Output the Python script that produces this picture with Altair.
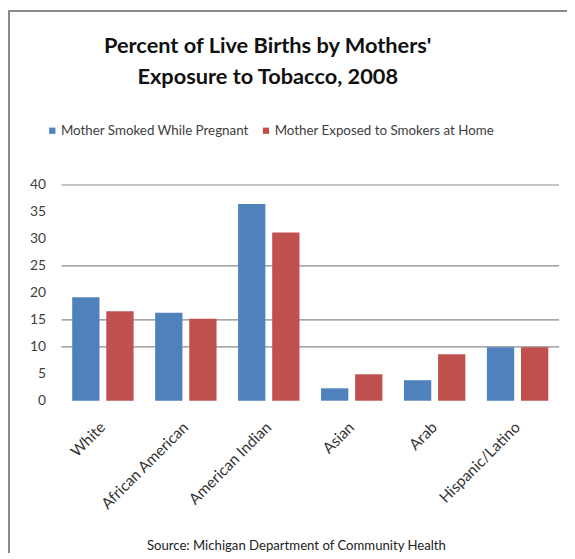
import altair as alt
import pandas as pd

categories = ["White", "African American", "American Indian", "Asian", "Arab", "Hispanic/Latino"]
series_names = ["Mother Smoked While Pregnant", "Mother Exposed to Smokers at Home"]
smoked = [19.2, 16.3, 36.5, 2.3, 3.8, 9.9]
exposed = [16.6, 15.2, 31.2, 4.9, 8.6, 9.9]
y_ticks = [0, 5, 10, 15, 20, 25, 30, 35, 40]
grid_values = [10, 15, 25, 40]
colors = ["#4F81BD", "#C0504D"]

FONT = "Lato"

rows = []
for c, a, b in zip(categories, smoked, exposed):
    rows.append({"category": c, "series": series_names[0], "value": a})
    rows.append({"category": c, "series": series_names[1], "value": b})
df = pd.DataFrame(rows)
grid_df = pd.DataFrame({"g": grid_values})

yscale = alt.Scale(domain=[0, 40], nice=False)
yaxis = alt.Axis(values=y_ticks, grid=False, domain=False, ticks=False,
                 tickSize=0, labelPadding=16, labelFontSize=14,
                 labelOverlap=False,
                 labelColor="#404040", labelFont=FONT, title=None)

bars = alt.Chart(df).mark_bar().encode(
    x=alt.X("category:N", sort=categories,
            scale=alt.Scale(paddingInner=0.26, paddingOuter=0.13),
            axis=alt.Axis(labelAngle=-45, labelAlign="right", labelBaseline="top",
                          labelFontSize=15.5, labelColor="#333333", labelFont=FONT,
                          labelPadding=19, labelOffset=-5, domain=False, ticks=False,
                          tickSize=0, labelLimit=0,
                          title="Source: Michigan Department of Community Health",
                          titleFont=FONT, titleFontSize=13.3, titleFontWeight="normal",
                          titleColor="#222222", titleX=237, titleY=150,
                          titleBaseline="alphabetic",
                          titleAnchor="start", titleAlign="center")),
    xOffset=alt.XOffset("series:N", sort=series_names,
                        scale=alt.Scale(paddingInner=0.2, paddingOuter=0)),
    y=alt.Y("value:Q", scale=yscale, axis=yaxis),
    color=alt.Color("series:N", sort=series_names,
                    scale=alt.Scale(domain=series_names, range=colors),
                    legend=alt.Legend(orient="none", direction="horizontal",
                                      legendX=-16, legendY=-62, title=None,
                                      symbolType="square", symbolSize=40,
                                      symbolStrokeWidth=0, labelFontSize=13.5,
                                      labelLimit=0,
                                      labelFont=FONT, labelColor="#404040",
                                      columnPadding=10, labelOffset=2)),
)

grid = alt.Chart(grid_df).mark_rule(color="#8a8a8a", strokeWidth=1.2).encode(
    y=alt.Y("g:Q", scale=yscale, axis=yaxis)
)

border_left = alt.Chart(grid_df).mark_rule(color="#8a8a8a", strokeWidth=2).encode(
    x=alt.value(-53), y=alt.value(-176), y2=alt.value(375)
)
border_top = alt.Chart(grid_df).mark_rule(color="#8a8a8a", strokeWidth=2).encode(
    x=alt.value(-54), x2=alt.value(513), y=alt.value(-176)
)

chart = alt.layer(grid, bars, border_left, border_top).properties(
    width=503, height=218,
    title=alt.TitleParams(
        text=["Percent of Live Births by Mothers'", "Exposure to Tobacco, 2008"],
        font=FONT, fontSize=22, fontWeight="bold", color="#111111",
        anchor="middle", dx=-43, lineHeight=31, offset=-80),
    autosize=alt.AutoSizeParams(type="none"),
    padding={"left": 54, "top": 176, "right": 8, "bottom": 151},
).configure_view(stroke=None)

chart.save("out.html", embed_options={"renderer": "svg", "actions": False})
